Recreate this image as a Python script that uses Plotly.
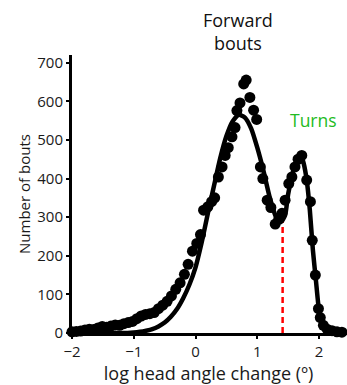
import plotly.graph_objects as go

# Scatter data (log head angle change, number of bouts)
dot_x = [-2.00, -1.93, -1.86, -1.79, -1.72, -1.65, -1.58, -1.51, -1.44, -1.37,
         -1.30, -1.23, -1.16, -1.09, -1.02, -0.95, -0.88, -0.81, -0.74, -0.67,
         -0.60, -0.53, -0.46, -0.39, -0.32, -0.25, -0.18, -0.12, -0.05, 0.02,
         0.08, 0.13, 0.20, 0.26, 0.31, 0.37, 0.43, 0.48, 0.53, 0.59,
         0.64, 0.67, 0.72, 0.78, 0.82, 0.88, 0.94, 0.99, 1.05, 1.09,
         1.16, 1.22, 1.29, 1.35, 1.40, 1.45, 1.51, 1.56, 1.61, 1.66,
         1.72, 1.80, 1.86, 1.89, 1.94, 1.99, 2.02, 2.07, 2.13, 2.21,
         2.29, 2.37]
dot_y = [3, 4, 5, 8, 10, 9, 13, 17, 15, 18,
         21, 20, 24, 27, 30, 37, 44, 48, 50, 53,
         63, 72, 82, 96, 113, 130, 152, 178, 212, 232,
         255, 318, 327, 340, 350, 404, 430, 460, 480, 508,
         532, 576, 596, 645, 655, 610, 577, 553, 430, 400,
         344, 325, 282, 297, 310, 344, 387, 404, 430, 450,
         460, 396, 340, 240, 150, 63, 40, 20, 10, 6,
         3, 2]

# Fitted curve
fit_x = [-2.0, -1.5, -1.1, -1.0, -0.9, -0.8, -0.7, -0.6, -0.5, -0.4,
         -0.3, -0.2, -0.1, 0.0, 0.1, 0.2, 0.3, 0.4, 0.5, 0.6,
         0.7, 0.8, 0.9, 1.0, 1.1, 1.2, 1.3, 1.38, 1.45, 1.5,
         1.6, 1.7, 1.75, 1.8, 1.85, 1.9, 1.95, 2.0, 2.05, 2.1,
         2.2, 2.3]
fit_y = [0, 0, 0, 1, 3, 6, 10, 17, 27, 42,
         62, 90, 125, 170, 235, 310, 382, 453, 510, 548,
         565, 558, 530, 480, 420, 352, 302, 287, 305, 360,
         430, 465, 440, 396, 320, 215, 135, 58, 25, 10,
         2, 0]

# Threshold between forward bouts and turns
threshold_x = 1.41
threshold_top = 288

x_ticks = [-2, -1, 0, 1, 2]
y_ticks = [0, 100, 200, 300, 400, 500, 600, 700]

font_family = "Open Sans, Noto Sans, sans-serif"

fig = go.Figure()
fig.add_trace(go.Scatter(
    x=[threshold_x, threshold_x], y=[0, threshold_top], mode="lines",
    line=dict(color="#ff0000", width=2.5, dash="6px,4px"),
    hoverinfo="skip", showlegend=False))
fig.add_trace(go.Scatter(
    x=fit_x, y=fit_y, mode="lines", line=dict(color="black", width=4.5, shape="spline", smoothing=0.6),
    showlegend=False, cliponaxis=False))
fig.add_trace(go.Scatter(
    x=dot_x, y=dot_y, mode="markers",
    marker=dict(color="black", size=11, line=dict(width=0)),
    showlegend=False, cliponaxis=False))

fig.update_layout(
    width=347, height=385,
    margin=dict(l=72, r=2, t=55, b=52),
    paper_bgcolor="white", plot_bgcolor="white",
    font=dict(family=font_family, color="#1a1a1a", size=15),
    xaxis=dict(range=[-2, 2.42], tickvals=x_ticks, showgrid=False, zeroline=False,
               showline=True, linecolor="black", linewidth=2.5,
               ticks="outside", ticklen=3, tickwidth=2, tickcolor="black",
               tickfont=dict(size=15),
               title=dict(text="log head angle change (º)", font=dict(size=18), standoff=2)),
    yaxis=dict(range=[0, 720], tickvals=y_ticks, showgrid=False, zeroline=False,
               showline=True, linecolor="black", linewidth=3,
               ticks="outside", ticklen=3, tickwidth=2, tickcolor="black",
               tickfont=dict(size=15),
               title=dict(text="Number of bouts", font=dict(size=15), standoff=4)),
    annotations=[
        dict(text="Forward<br>bouts", x=0.608, y=1.083, xref="paper", yref="paper",
             showarrow=False, font=dict(size=18, color="#111111"), xanchor="center", yanchor="middle"),
        dict(text="Turns", x=0.883, y=0.766, xref="paper", yref="paper",
             showarrow=False, font=dict(size=17.5, color="#22bb22"), xanchor="center", yanchor="middle"),
    ],
)

fig.write_html("out.html")
